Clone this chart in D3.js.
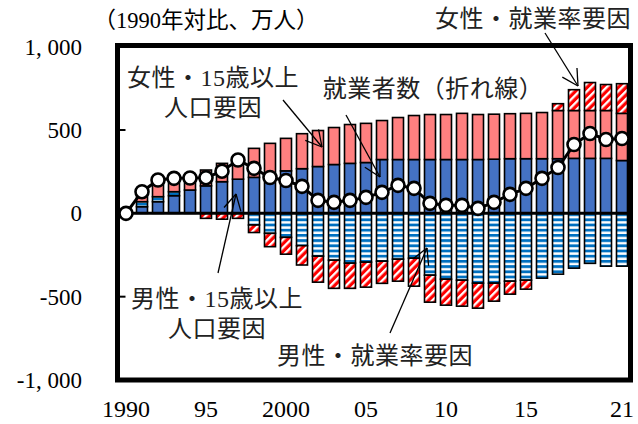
<!DOCTYPE html>
<html>
<head>
<meta charset="utf-8">
<script src="https://cdn.jsdelivr.net/npm/d3@7"></script>
<style>
body { margin: 0; background: #fff; }
</style>
</head>
<body>
<div id="chart"></div>
<script>
// Data (1990年対比、万人)
var years = [1990, 1991, 1992, 1993, 1994, 1995, 1996, 1997, 1998, 1999, 2000, 2001, 2002, 2003, 2004, 2005,
             2006, 2007, 2008, 2009, 2010, 2011, 2012, 2013, 2014, 2015, 2016, 2017, 2018, 2019, 2020, 2021]
// 男性・15歳以上人口要因
var malePop = [0, 40, 70, 106, 140, 165, 190, 205, 216, 235, 255, 268, 281, 293, 300, 305,
               323, 323, 323, 323, 323, 323, 323, 325, 328, 328, 328, 328, 330, 330, 330, 317]
// 男性・就業率要因
var maleRate = [0, 30, 30, 24, 0, 0, 0, 0, -70, -120, -144, -194, -257, -281, -299, -293,
                -287, -275, -269, -371, -395, -401, -419, -419, -407, -401, -389, -365, -329, -300, -317, -317]
// 女性・15歳以上人口要因
var femalePop = [0, 50, 90, 75, 70, 95, 110, 135, 174, 185, 195, 210, 216, 222, 233, 235,
                 234, 252, 264, 270, 270, 277, 270, 270, 270, 272, 277, 289, 287, 287, 287, 283]
// 女性・就業率要因
var femaleRate = [0, 0, 0, 0, 0, -30, -35, -30, -45, -80, -101, -116, -156, -169, -151, -150,
                  -133, -132, -168, -162, -156, -156, -150, -108, -78, -54, 0, 41, 125, 168, 156, 178]
// 就業者数（折れ線）
var employed = [0, 130, 200, 210, 212, 214, 253, 320, 270, 215, 197, 162, 78, 66, 78, 96,
                126, 168, 150, 60, 48, 48, 30, 66, 114, 150, 210, 275, 413, 479, 443, 449]

var yTicks = [1000, 500, 0, -500, -1000]
var yTickLabels = ['1, 000', '500', '0', '-500', '-1, 000']
var xTickYears = [1990, 1995, 2000, 2005, 2010, 2015, 2021]
var xTickLabels = ['1990', '95', '2000', '05', '10', '15', '21']

var keys = ['malePop', 'maleRate', 'femalePop', 'femaleRate']
var fills = {
  malePop: '#4472C4',
  maleRate: 'url(#stripeBlue)',
  femalePop: '#FF8080',
  femaleRate: 'url(#hatchRed)'
}

var numFont = '"Liberation Serif", "Times New Roman", serif'
var jpFont = '"Liberation Serif", "Noto Sans CJK JP", sans-serif'

var width = 638
var height = 424
var plot = {left: 117.5, right: 630.5, top: 45.5, bottom: 380}

var svg = d3.select('#chart').append('svg')
    .attr('width', width)
    .attr('height', height)

var defs = svg.append('defs')

var pb = defs.append('pattern')
    .attr('id', 'stripeBlue')
    .attr('patternUnits', 'userSpaceOnUse')
    .attr('width', 8)
    .attr('height', 5.2)
pb.append('rect').attr('width', 8).attr('height', 5.2).attr('fill', '#fff')
pb.append('rect').attr('width', 8).attr('height', 2.8).attr('fill', '#0070C0')

var pr = defs.append('pattern')
    .attr('id', 'hatchRed')
    .attr('patternUnits', 'userSpaceOnUse')
    .attr('width', 5.5)
    .attr('height', 5.5)
    .attr('patternTransform', 'rotate(45)')
pr.append('rect').attr('width', 5.5).attr('height', 5.5).attr('fill', '#FF0000')
pr.append('rect').attr('width', 2.3).attr('height', 5.5).attr('fill', '#fff')

var x = d3.scalePoint()
    .domain(years)
    .range([126, 622])

var y = d3.scaleLinear()
    .domain([-1000, 1000])
    .range([380, 46.7])

var barW = 11

var rows = years.map(function(yr, i){
  return {year: yr, malePop: malePop[i], maleRate: maleRate[i], femalePop: femalePop[i], femaleRate: femaleRate[i]}
})

var series = d3.stack()
    .keys(keys)
    .offset(d3.stackOffsetDiverging)(rows)

// Bars
svg.append('g').selectAll('g')
    .data(series)
  .enter().append('g')
    .attr('fill', function(s){ return fills[s.key] })
  .selectAll('rect')
    .data(function(s){ return s.filter(function(d){ return d[0] !== d[1] }) })
  .enter().append('rect')
    .attr('x', function(d){ return x(d.data.year) - barW / 2 })
    .attr('y', function(d){ return y(Math.max(d[0], d[1])) })
    .attr('width', barW)
    .attr('height', function(d){ return Math.abs(y(d[0]) - y(d[1])) })
    .attr('stroke', '#000')
    .attr('stroke-width', 1.6)

// Zero line
svg.append('line')
    .attr('x1', plot.left)
    .attr('x2', plot.right)
    .attr('y1', y(0))
    .attr('y2', y(0))
    .attr('stroke', '#000')
    .attr('stroke-width', 3)

// Frame
svg.append('rect')
    .attr('x', plot.left)
    .attr('y', plot.top)
    .attr('width', plot.right - plot.left)
    .attr('height', plot.bottom - plot.top)
    .attr('fill', 'none')
    .attr('stroke', '#000')
    .attr('stroke-width', 5)

// Y ticks (inside) and labels
svg.append('g').selectAll('line')
    .data(yTicks)
  .enter().append('line')
    .attr('x1', plot.left)
    .attr('x2', plot.left + 8)
    .attr('y1', function(d){ return y(d) })
    .attr('y2', function(d){ return y(d) })
    .attr('stroke', '#000')
    .attr('stroke-width', 2)

svg.append('g').selectAll('text')
    .data(yTicks)
  .enter().append('text')
    .attr('x', 82)
    .attr('y', function(d){ return y(d) + 8 })
    .attr('text-anchor', 'end')
    .attr('font-family', numFont)
    .attr('font-size', '23px')
    .attr('fill', '#000')
    .text(function(d, i){ return yTickLabels[i] })

// X labels
svg.append('g').selectAll('text')
    .data(xTickYears)
  .enter().append('text')
    .attr('x', function(d){ return x(d) })
    .attr('y', 417)
    .attr('text-anchor', 'middle')
    .attr('font-family', numFont)
    .attr('font-size', '24px')
    .attr('fill', '#000')
    .text(function(d, i){ return xTickLabels[i] })

// Employed line
var line = d3.line()
    .x(function(d, i){ return x(years[i]) })
    .y(function(d){ return y(d) })

svg.append('path')
    .datum(employed)
    .attr('d', line)
    .attr('fill', 'none')
    .attr('stroke', '#000')
    .attr('stroke-width', 3)

svg.append('g').selectAll('circle')
    .data(employed)
  .enter().append('circle')
    .attr('cx', function(d, i){ return x(years[i]) })
    .attr('cy', function(d){ return y(d) })
    .attr('r', 6.5)
    .attr('fill', '#fff')
    .attr('stroke', '#000')
    .attr('stroke-width', 2.6)

// Title
svg.append('text')
    .attr('x', 206)
    .attr('y', 28)
    .attr('text-anchor', 'middle')
    .attr('font-family', jpFont)
    .attr('font-size', '22.5px')
    .attr('fill', '#000')
    .text('（1990年対比、万人）')

// Annotations
var notes = [
  {text: '女性・15歳以上', x: 213, y: 86},
  {text: '人口要因', x: 213, y: 116},
  {text: '女性・就業率要因', x: 533, y: 27},
  {text: '就業者数（折れ線）', x: 433, y: 97},
  {text: '男性・15歳以上', x: 217, y: 307},
  {text: '人口要因', x: 217, y: 337},
  {text: '男性・就業率要因', x: 375, y: 364}
]

svg.append('g').selectAll('text')
    .data(notes)
  .enter().append('text')
    .attr('x', function(d){ return d.x })
    .attr('y', function(d){ return d.y })
    .attr('text-anchor', 'middle')
    .attr('font-family', jpFont)
    .attr('font-size', '24px')
    .attr('letter-spacing', '0.5px')
    .attr('fill', '#222')
    .text(function(d){ return d.text })

// Leader lines with open arrowheads
var leaders = [
  {x1: 283, y1: 100, x2: 322, y2: 147},
  {x1: 346, y1: 115, x2: 380, y2: 177},
  {x1: 545, y1: 33, x2: 578, y2: 86},
  {x1: 218, y1: 273, x2: 236, y2: 194},
  {x1: 390, y1: 333, x2: 427, y2: 248}
]

var lg = svg.append('g')
    .attr('stroke', '#000')
    .attr('stroke-width', 1.3)
    .attr('fill', 'none')

leaders.forEach(function(l){
  lg.append('line')
    .attr('x1', l.x1).attr('y1', l.y1)
    .attr('x2', l.x2).attr('y2', l.y2)
  var a = Math.atan2(l.y1 - l.y2, l.x1 - l.x2)
  var len = 18
  ;[-0.5, 0.5].forEach(function(da){
    lg.append('line')
      .attr('x1', l.x2).attr('y1', l.y2)
      .attr('x2', l.x2 + len * Math.cos(a + da))
      .attr('y2', l.y2 + len * Math.sin(a + da))
  })
})
</script>
</body>
</html>
